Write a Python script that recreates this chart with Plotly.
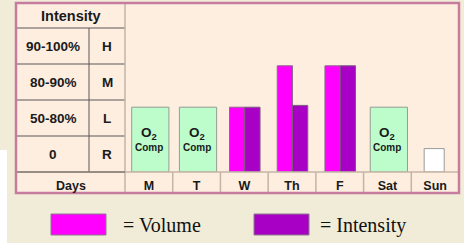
import plotly.graph_objects as go

# ---- data ----
days = ["M", "T", "W", "Th", "F", "Sat", "Sun"]
o2_days = ["M", "T", "Sat"]
o2_level = [1.8, 1.8, 1.8]
work_days = ["W", "Th", "F"]
volume = [1.8, 2.95, 2.95]
intensity = [1.8, 1.85, 2.95]
rest_days = ["Sun"]
rest_level = [0.65]
zone_ranges = ["0", "50-80%", "80-90%", "90-100%"]
zone_codes = ["R", "L", "M", "H"]
legend_items = ["= Volume", "= Intensity"]

W, H = 464, 248
L, R, T, B = 16, 459, 3, 172      # plot area in px
BOX_BOTTOM = 193


def px(x):
    return (x - L) / (R - L)


def py(y):
    return (B - y) / (B - T)


VOL_C = "#ff00ff"
INT_C = "#a800c4"
O2_C = "#bdfdcc"
GRID_DARK = "#5a5656"
GRID_LIGHT = "#c4b4a6"
BOX_BG = "#fdeee0"
PAGE_BG = "#f1ecd7"

fig = go.Figure()
fig.add_bar(x=o2_days, y=o2_level, width=0.78, offset=-0.36,
            marker=dict(color=O2_C, line=dict(color="#939e93", width=1)),
            hoverinfo="skip")
fig.add_bar(x=work_days, y=volume, width=0.32, offset=-0.31,
            marker=dict(color=VOL_C, line=dict(color="#8a6a8a", width=1)),
            hoverinfo="skip")
fig.add_bar(x=work_days, y=intensity, width=0.32, offset=0.01,
            marker=dict(color=INT_C, line=dict(color="#7a5a7a", width=1)),
            hoverinfo="skip")
fig.add_bar(x=rest_days, y=rest_level, width=0.42, offset=-0.23,
            marker=dict(color="white", line=dict(color="#9a9a9a", width=1)),
            hoverinfo="skip")

shapes = []
# white page edges (bottom / lower-left)
shapes.append(dict(type="rect", xref="paper", yref="paper", x0=px(0), x1=px(W),
                   y0=py(H), y1=py(243), fillcolor="white", line=dict(width=0),
                   layer="below"))
shapes.append(dict(type="rect", xref="paper", yref="paper", x0=px(0), x1=px(7),
                   y0=py(H), y1=py(150), fillcolor="white", line=dict(width=0),
                   layer="below"))
# box background
shapes.append(dict(type="rect", xref="paper", yref="paper", x0=0, x1=1,
                   y0=py(BOX_BOTTOM), y1=1, fillcolor=BOX_BG,
                   line=dict(width=0), layer="below"))
# table horizontal lines (left part)
for lvl in range(1, len(zone_ranges) + 1):
    shapes.append(dict(type="line", xref="paper", yref="y", x0=0, x1=px(125),
                       y0=lvl, y1=lvl, line=dict(color=GRID_DARK, width=1)))
# vertical divider between range and code
shapes.append(dict(type="line", xref="paper", yref="y", x0=px(89), x1=px(89),
                   y0=0, y1=len(zone_ranges), line=dict(color=GRID_DARK, width=1)))
# divider table / chart
shapes.append(dict(type="line", xref="paper", yref="paper", x0=px(125), x1=px(125),
                   y0=py(BOX_BOTTOM), y1=1, line=dict(color=GRID_LIGHT, width=1.5)))
# top of days row
shapes.append(dict(type="line", xref="paper", yref="paper", x0=0, x1=1,
                   y0=0, y1=0, line=dict(color=GRID_LIGHT, width=1.5)))
# R row bottom (dark) in table
shapes.append(dict(type="line", xref="paper", yref="paper", x0=0, x1=px(125),
                   y0=0, y1=0, line=dict(color=GRID_DARK, width=1)))
# day separators
for i in range(len(days) - 1):
    shapes.append(dict(type="line", xref="x", yref="paper", x0=i + 0.5, x1=i + 0.5,
                       y0=py(BOX_BOTTOM), y1=0, line=dict(color=GRID_LIGHT, width=1.5)))
# outer border
shapes.append(dict(type="rect", xref="paper", yref="paper", x0=0, x1=1,
                   y0=py(BOX_BOTTOM), y1=1, line=dict(color="#c57c9e", width=2.5)))
# legend swatches
for (x0, x1), col in zip([(51, 106), (254, 309)], [VOL_C, INT_C]):
    shapes.append(dict(type="rect", xref="paper", yref="paper", x0=px(x0), x1=px(x1),
                       y0=py(235), y1=py(214), fillcolor=col,
                       line=dict(color="#8a7a8a", width=1)))

bold = dict(family="Arial, Liberation Sans, sans-serif", size=13.5, color="#1a1a1a",
            weight="bold")
C = dict(xanchor="center", yanchor="middle", showarrow=False)
ann = []
ann.append(dict(text="Intensity", xref="paper", yref="paper", x=px(71),
                y=py(16), font=dict(bold, size=14.5), **C))
for i, (rng, code) in enumerate(zip(zone_ranges, zone_codes)):
    ann.append(dict(text=rng, xref="paper", yref="y", x=px(53), y=i + 0.5,
                    font=bold, **C))
    ann.append(dict(text=code, xref="paper", yref="y", x=px(107), y=i + 0.5,
                    font=bold, **C))
ann.append(dict(text="Days", xref="paper", yref="paper", x=px(70.5), y=py(185.5),
                font=dict(bold, size=12.5), **C))
for d in o2_days:
    ann.append(dict(text="O<sub>2</sub>", x=d, y=1.08, xref="x", yref="y",
                    font=dict(bold, size=13.5), **C))
    ann.append(dict(text="Comp", x=d, y=0.69, xref="x", yref="y",
                    font=dict(bold, size=10), **C))
serif = dict(family="Liberation Serif, Times New Roman, serif", size=20, color="#111")
for txt, x0 in zip(legend_items, [121, 318]):
    ann.append(dict(text=txt, xref="paper", yref="paper", x=px(x0), y=py(225),
                    xanchor="left", yanchor="middle", showarrow=False, font=serif))

fig.update_layout(
    width=W, height=H,
    margin=dict(l=L, r=W - R, t=T, b=H - B),
    paper_bgcolor=PAGE_BG, plot_bgcolor=BOX_BG,
    barmode="overlay", showlegend=False,
    shapes=shapes, annotations=ann,
    xaxis=dict(type="category", categoryorder="array", categoryarray=days,
               range=[-2.785, 6.5], showgrid=False, zeroline=False, ticks="",
               showline=False, fixedrange=True, ticklabelstandoff=4,
               tickfont=dict(family="Arial, Liberation Sans, sans-serif", size=12.5,
                             color="#1a1a1a", weight="bold")),
    yaxis=dict(range=[0, (B - T) / 36.0], visible=False, fixedrange=True),
)

fig.write_html("out.html", config=dict(displayModeBar=False),
               post_script="document.body.style.margin='0';")
